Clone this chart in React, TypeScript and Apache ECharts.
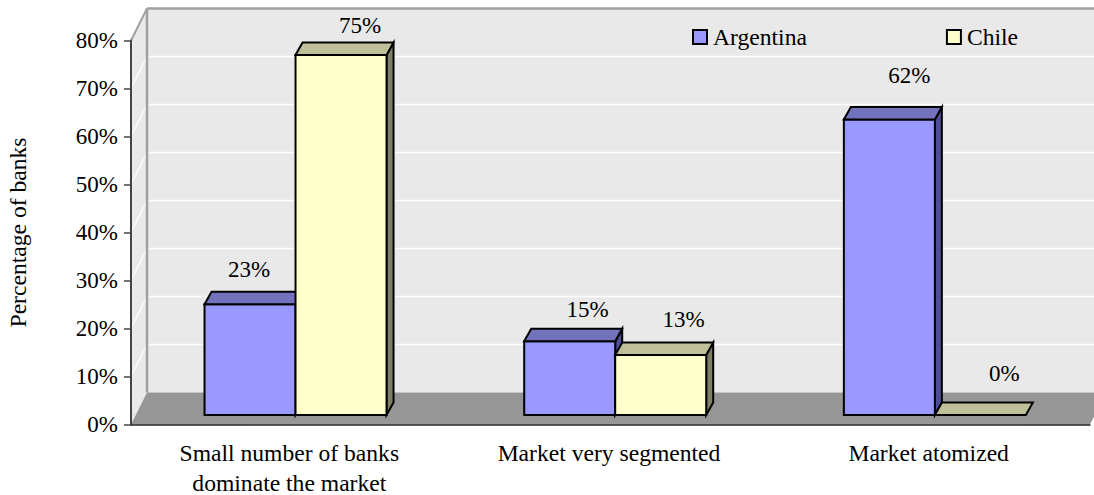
import React, { useEffect, useRef } from "react";
import * as echarts from "echarts";

const categories = ["Small number of banks\ndominate the market", "Market very segmented", "Market atomized"];
const argentina = [23.08, 15.38, 61.54];
const chile = [75, 12.5, 0];
const gridValues = [10, 20, 30, 40, 50, 60, 70];
const argentinaLabelShift = [[-1, -22], [18, -19], [20, -32]];
const chileLabelShift = [[19, -17], [23, -23], [24, -29]];

const FONT = "Liberation Serif";
const FS = 23;
const FS_TEXT = 23.6;
const WALL = { dx: 16, dy: -32 };
const BAR = { dx: 7, dy: -12.5, width: 91, shiftX: 4.7, shiftY: -9.5 };

const poly = (points: number[][], fill: string, stroke?: string, lineWidth = 2) => ({
  type: "polygon",
  shape: { points },
  style: { fill, stroke: stroke ?? "none", lineWidth, lineJoin: "miter" },
});
const seg = (x1: number, y1: number, x2: number, y2: number, stroke: string, lineWidth: number) => ({
  type: "line",
  shape: { x1, y1, x2, y2 },
  style: { stroke, lineWidth },
});

function renderWalls(params: any, api: any) {
  const cs = params.coordSys;
  const L = cs.x;
  const R = cs.x + cs.width;
  const y0 = api.coord([0, 0])[1];
  const yT = api.coord([0, 80])[1];
  const { dx, dy } = WALL;
  const children: any[] = [
    poly([[L, yT], [L + dx, yT + dy], [L + dx, y0 + dy], [L, y0]], "#e9e9e9"),
    poly([[L + dx, yT + dy], [R + dx, yT + dy], [R + dx, y0 + dy], [L + dx, y0 + dy]], "#e9e9e9"),
  ];
  gridValues.forEach((v) => {
    const y = api.coord([0, v])[1];
    children.push(seg(L, y, L + dx, y + dy, "#ffffff", 1.2));
    children.push(seg(L + dx, y + dy, R + dx, y + dy, "#ffffff", 1.5));
  });
  children.push(poly([[L, y0], [L + dx, y0 + dy], [R + dx, y0 + dy], [R, y0]], "#969696"));
  children.push(seg(L, yT, L + dx, yT + dy, "#a0a0a0", 2));
  children.push(seg(L + dx, yT + dy, L + dx, y0 + dy, "#a0a0a0", 2.5));
  children.push(seg(L + dx, yT + dy, R + dx, yT + dy, "#a0a0a0", 2.5));
  return { type: "group", children };
}

function makeBar(side: number, front: string, top: string, right: string, shifts: number[][]) {
  return (params: any, api: any) => {
    const idx = api.value(0);
    const val = api.value(1);
    const [cx0, yv] = api.coord([idx, val]);
    const y0raw = api.coord([idx, 0])[1];
    const cx = cx0 + BAR.shiftX;
    const x1 = side < 0 ? cx - BAR.width : cx;
    const x2 = x1 + BAR.width;
    const y0 = y0raw + BAR.shiftY;
    const y1 = yv + BAR.shiftY;
    const { dx, dy } = BAR;
    const children: any[] = [];
    if (val > 0) {
      children.push(poly([[x2, y1], [x2 + dx, y1 + dy], [x2 + dx, y0 + dy], [x2, y0]], right, "#000"));
      children.push(poly([[x1, y1], [x2, y1], [x2, y0], [x1, y0]], front, "#000"));
    }
    children.push(poly([[x1, y1], [x1 + dx, y1 + dy], [x2 + dx, y1 + dy], [x2, y1]], top, "#000"));
    const [sx, sy] = shifts[idx];
    children.push({
      type: "text",
      style: {
        text: Math.round(val) + "%",
        x: (x1 + x2) / 2 + sx,
        y: y1 + dy + sy,
        textAlign: "center",
        textVerticalAlign: "middle",
        fontFamily: FONT,
        fontSize: FS,
        fill: "#000",
      },
    });
    return { type: "group", children };
  };
}

export default function App() {
  const ref = useRef<HTMLDivElement>(null);
  useEffect(() => {
    const chart = echarts.init(ref.current!, undefined, { renderer: "svg" });
    chart.setOption({
      animation: false,
      backgroundColor: "#ffffff",
      textStyle: { fontFamily: FONT },
      grid: { left: 131, right: 4, top: 40.5, bottom: 70.5, containLabel: false, outerBoundsMode: "none" },
      legend: {
        left: 692,
        top: 25,
        padding: 0,
        itemWidth: 14,
        itemHeight: 14,
        itemGap: 139,
        selectedMode: false,
        icon: "rect",
        textStyle: { fontFamily: FONT, fontSize: FS_TEXT, color: "#000", padding: [0, 0, 0, 1] },
        data: ["Argentina", "Chile"],
      },
      xAxis: {
        type: "category",
        data: categories,
        z: 5,
        axisLine: { lineStyle: { color: "#222", width: 1.5 } },
        axisTick: { length: 7, lineStyle: { color: "#444", width: 1 } },
        axisLabel: { fontFamily: FONT, fontSize: FS_TEXT, color: "#000", lineHeight: 30, margin: 13, interval: 0, padding: [0, 3, 0, 0] },
      },
      yAxis: {
        type: "value",
        min: 0,
        max: 80,
        interval: 10,
        z: 5,
        name: "Percentage of banks",
        nameLocation: "middle",
        nameGap: 101,
        nameRotate: 90,
        nameTextStyle: { fontFamily: FONT, fontSize: FS_TEXT, color: "#000" },
        axisLine: { show: true, lineStyle: { color: "#444", width: 2 } },
        axisTick: { show: true, length: 7, lineStyle: { color: "#444", width: 1.5 } },
        splitLine: { show: false },
        axisLabel: { fontFamily: FONT, fontSize: FS, color: "#000", margin: 13, formatter: "{value}%" },
      },
      series: [
        { type: "custom", name: "walls", z: 1, silent: true, data: [[0, 0]], renderItem: renderWalls, encode: { x: 0, y: 1 } },
        {
          type: "custom",
          name: "Argentina",
          z: 2,
          itemStyle: { color: "#9999ff", borderColor: "#000", borderWidth: 2 },
          data: argentina.map((v, i) => [i, v]),
          encode: { x: 0, y: 1 },
          renderItem: makeBar(-1, "#9999ff", "#7373bd", "#4d4d99", argentinaLabelShift),
        },
        {
          type: "custom",
          name: "Chile",
          z: 3,
          itemStyle: { color: "#ffffcc", borderColor: "#000", borderWidth: 2 },
          data: chile.map((v, i) => [i, v]),
          encode: { x: 0, y: 1 },
          renderItem: makeBar(1, "#ffffcc", "#bfbf99", "#7f7f66", chileLabelShift),
        },
      ],
    });
    return () => chart.dispose();
  }, []);
  return <div ref={ref} style={{ position: "absolute", left: 0, top: 0, width: 1094, height: 495 }} />;
}
